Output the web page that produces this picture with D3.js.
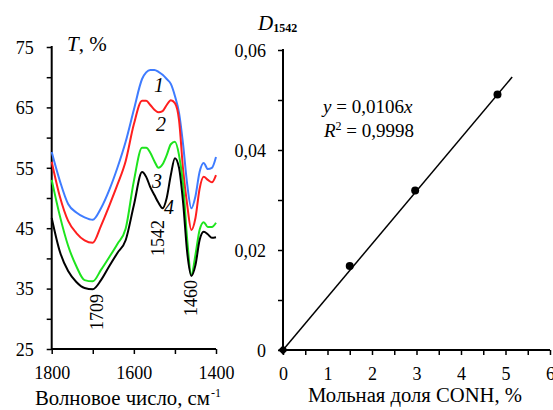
<!DOCTYPE html>
<html><head><meta charset="utf-8">
<script src="https://cdn.jsdelivr.net/npm/d3@7"></script>
<style>
html,body{margin:0;padding:0;background:#fff;}
svg{display:block;}
svg text{font-family:"Liberation Serif","Times New Roman","DejaVu Serif",serif;}
</style></head>
<body>
<svg id="c" width="553" height="410"></svg>
<script>
// ---- Left panel: IR spectra ----
const wavenumbers = [1800,1780,1760,1740,1720,1700,1680,1660,1640,1620,1600,1580,1570,1560,1550,1540,1530,1520,1510,1500,1490,1480,1470,1460,1450,1440,1430,1420,1410,1400];
const spectrum1 = [57.6,52.8,49.0,47.6,46.8,46.4,48.3,51.3,55.0,59.3,64.6,69.7,70.8,71.2,71.2,70.9,70.4,69.7,68.9,66.9,64.1,58.8,52.2,48.3,50.3,54.3,55.8,54.8,55.0,56.8];
const spectrum2 = [56.0,50.2,46.2,44.2,43.0,42.6,45.4,48.7,52.2,56.1,62.2,66.1,66.1,65.4,64.6,64.2,64.4,65.4,66.2,65.7,62.9,54.6,48.8,44.7,46.7,51.5,53.5,53.0,52.6,53.8];
const spectrum3 = [53.0,47.0,42.1,38.7,36.4,36.2,38.1,40.2,42.4,44.9,52.8,58.3,58.3,57.5,56.1,55.0,55.6,57.1,58.9,59.3,57.1,52.2,43.0,37.3,40.6,44.7,46.0,45.2,45.2,45.9];
const spectrum4 = [46.7,41.1,37.9,36.1,35.1,34.9,36.4,38.7,40.9,43.0,48.8,54.3,53.5,51.8,50.5,49.2,48.3,50.0,53.8,56.6,55.0,49.2,40.9,37.1,38.9,43.0,44.4,44.0,43.4,43.5];
const seriesNames = ["1","2","3","4"];
const seriesColors = ["#3f7cff","#ff1f1f","#1ee41e","#000000"];
const tTicks = [25,30,35,40,45,50,55,60,65,70,75];
const tLabels = [25,35,45,55,65,75];
const wnTicks = [1800,1700,1600,1500,1400];
const wnLabels = [1800,1600,1400];
const bandLabels = ["1709","1542","1460"];

// ---- Right panel: calibration ----
const molarFraction = [0, 1.5, 2.97, 4.82];
const d1542 = [0, 0.0168, 0.0319, 0.0511];
const trendX = [0, 5.15];
const trendY = [0, 0.0546];
const dTicks = [0,0.01,0.02,0.03,0.04,0.05,0.06];
const dLabels = [0,0.02,0.04,0.06];
const mTicks = [0,0.5,1,1.5,2,2.5,3,3.5,4,4.5,5,5.5,6];

const SERIF = '"Liberation Serif","Times New Roman","DejaVu Serif",serif';
const svg = d3.select("#c");
const fmtComma = v => String(+v.toFixed(2)).replace(".", ",");

// ===== Left chart =====
const xL = d3.scaleLinear().domain([1800,1400]).range([51.7,216]);
const yL = d3.scaleLinear().domain([25,75]).range([349,47]);
const gL = svg.append("g");

const axL = gL.append("g").attr("transform","translate(51.7,0)")
  .call(d3.axisLeft(yL).tickValues(tTicks).tickSize(5).tickPadding(13)
    .tickFormat(d => tLabels.includes(d) ? String(d) : ""));
const axB = gL.append("g").attr("transform","translate(0,349)")
  .call(d3.axisBottom(xL).tickValues(wnTicks).tickSize(5)
    .tickFormat(d => wnLabels.includes(d) ? String(d) : ""));
[axL, axB].forEach(a => {
  a.attr("font-family", SERIF);
  a.select(".domain").remove();
  a.selectAll(".tick line").attr("stroke","#000").attr("stroke-width",1.5);
  a.selectAll("text").attr("font-size","18px").attr("fill","#000");
});
gL.append("line").attr("x1",xL(1800)).attr("x2",xL(1800)).attr("y1",yL(75)-1).attr("y2",yL(25)+1).attr("stroke","#000").attr("stroke-width",2);
gL.append("line").attr("x1",xL(1800)).attr("x2",xL(1400)).attr("y1",yL(25)).attr("y2",yL(25)).attr("stroke","#000").attr("stroke-width",2);
axL.selectAll("text").attr("dy","0.35em");
axB.selectAll("text").attr("y",30).attr("dy",null);

const spectra = [spectrum1, spectrum2, spectrum3, spectrum4];
const line = d3.line().x((d,i) => xL(wavenumbers[i])).y(d => yL(d)).curve(d3.curveMonotoneX);
spectra.forEach((s,k) => {
  gL.append("path").datum(s).attr("d", line).attr("fill","none")
    .attr("stroke", seriesColors[k]).attr("stroke-width",2).attr("stroke-linejoin","round");
});

// curve numbers
const numPos = [[159,92],[161,131],[157,188],[169,214]];
seriesNames.forEach((n,k) => {
  gL.append("text").attr("x",numPos[k][0]).attr("y",numPos[k][1]).attr("text-anchor","middle")
    .attr("font-size","20px").attr("font-style","italic").text(n);
});
// band labels (rotated)
const bandPos = [[97,312],[158,238],[191,298]];
bandLabels.forEach((b,k) => {
  gL.append("text").attr("transform",`translate(${bandPos[k][0]},${bandPos[k][1]}) rotate(-90)`)
    .attr("text-anchor","middle").attr("dy","0.35em").attr("font-size","18px").text(b);
});
// y title
const tt = gL.append("text").attr("x",67).attr("y",51).attr("font-size","21px");
tt.append("tspan").attr("font-style","italic").text("T");
tt.append("tspan").text(", %");
// x title
gL.append("text").attr("x",35).attr("y",405).attr("font-size","20px")
  .attr("textLength",175).attr("lengthAdjust","spacingAndGlyphs")
  .text("Волновое число, см");
gL.append("text").attr("x",211).attr("y",397).attr("font-size","12px").text("-1");

// ===== Right chart =====
const xR = d3.scaleLinear().domain([0,6]).range([283,550]);
const yR = d3.scaleLinear().domain([0,0.06]).range([350,50]);
const gR = svg.append("g");
const axRL = gR.append("g").attr("transform","translate(283,0)")
  .call(d3.axisLeft(yR).tickValues(dTicks).tickSize(5).tickPadding(12)
    .tickFormat(d => dLabels.some(v => Math.abs(v-d)<1e-9) ? fmtComma(d) : ""));
const axRB = gR.append("g").attr("transform","translate(0,350)")
  .call(d3.axisBottom(xR).tickValues(mTicks).tickSize(5)
    .tickFormat(d => Number.isInteger(d) ? String(d) : ""));
[axRL, axRB].forEach(a => {
  a.attr("font-family", SERIF);
  a.select(".domain").remove();
  a.selectAll(".tick line").attr("stroke","#000").attr("stroke-width",1.5);
  a.selectAll("text").attr("font-size","18px").attr("fill","#000");
});
axRL.selectAll("text").attr("dy","0.35em");
axRB.selectAll("text").attr("y",30).attr("dy",null);
gR.append("line").attr("x1",xR(0)).attr("x2",xR(0)).attr("y1",yR(0.06)-1).attr("y2",yR(0)+1).attr("stroke","#000").attr("stroke-width",2);
gR.append("line").attr("x1",xR(0)).attr("x2",xR(6)).attr("y1",yR(0)).attr("y2",yR(0)).attr("stroke","#000").attr("stroke-width",2);

// trend line
gR.append("path").datum(trendX.map((x,i)=>[x,trendY[i]]))
  .attr("d", d3.line().x(d=>xR(d[0])).y(d=>yR(d[1])))
  .attr("stroke","#000").attr("stroke-width",1.5).attr("fill","none");
// points
molarFraction.forEach((m,i) => {
  if (i === 0) {
    gR.append("path").attr("d", d3.symbol(d3.symbolDiamond2, 60)())
      .attr("transform",`translate(${xR(m)},${yR(d1542[i])})`).attr("fill","#000");
  } else {
    gR.append("circle").attr("cx",xR(m)).attr("cy",yR(d1542[i])).attr("r",4).attr("fill","#000");
  }
});
// equation
const e1 = gR.append("text").attr("x",323).attr("y",113).attr("font-size","19px");
e1.append("tspan").attr("font-style","italic").text("y");
e1.append("tspan").text(" = 0,0106");
e1.append("tspan").attr("font-style","italic").text("x");
const e2 = gR.append("text").attr("x",324).attr("y",137).attr("font-size","19px");
e2.append("tspan").attr("font-style","italic").text("R");
e2.append("tspan").attr("dy",-7).attr("font-size","12px").text("2");
e2.append("tspan").attr("dy",7).text(" = 0,9998");
// y title
const dt = gR.append("text").attr("x",258).attr("y",30).attr("font-size","21px");
dt.append("tspan").attr("font-style","italic").text("D");
dt.append("tspan").attr("dy",2).attr("font-size","12px").attr("font-weight","bold").text("1542");
// x title
gR.append("text").attr("x",308).attr("y",402).attr("font-size","20px")
  .attr("textLength",214).attr("lengthAdjust","spacingAndGlyphs")
  .text("Мольная доля CONH, %");
svg.selectAll("text").style("font-family", SERIF);
</script>
</body></html>
